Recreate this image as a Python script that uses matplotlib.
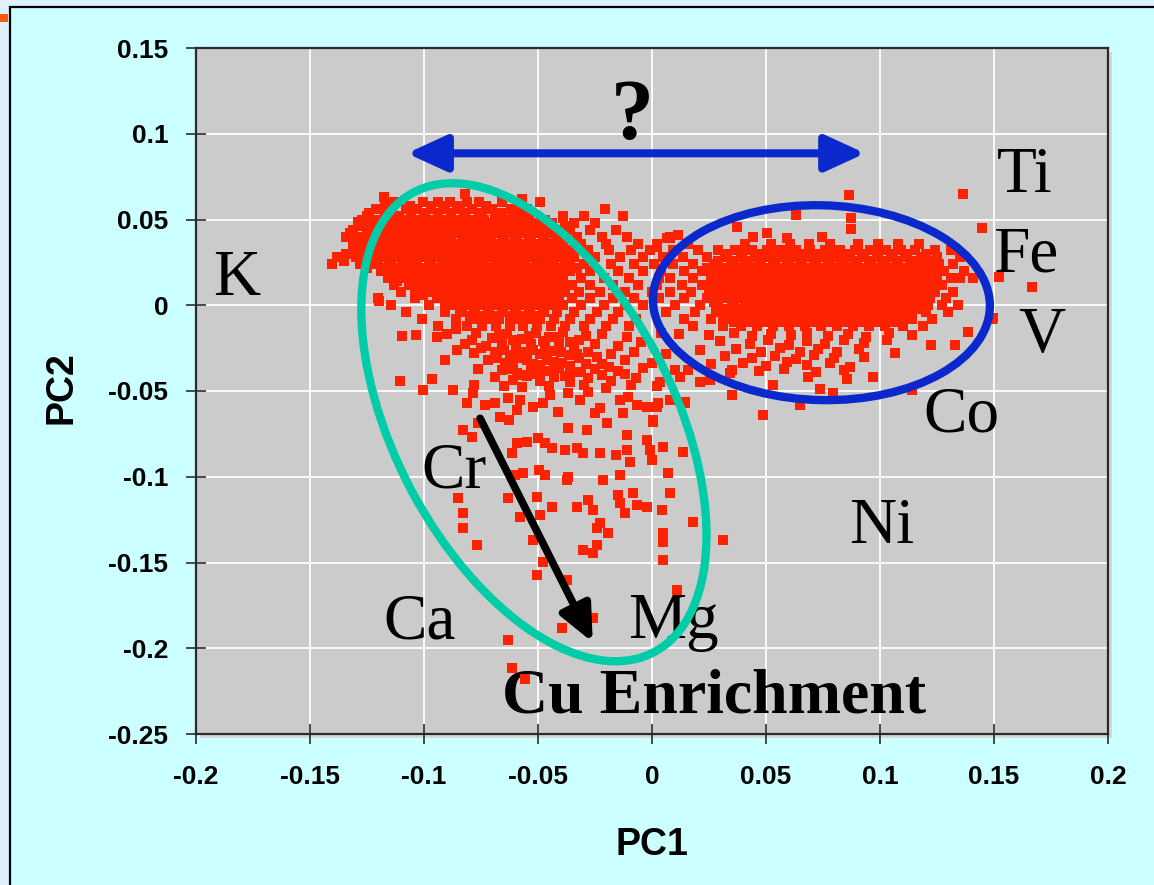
import numpy as np
import matplotlib
matplotlib.use("Agg")
import matplotlib.pyplot as plt
from matplotlib.patches import Rectangle, Ellipse, FancyArrowPatch
from matplotlib.transforms import Affine2D

plt.rcParams['font.family'] = ['Liberation Sans', 'DejaVu Sans']
plt.rcParams['axes.unicode_minus'] = False

# ---------------- axis ticks ----------------
x_ticks = [-0.2, -0.15, -0.1, -0.05, 0.0, 0.05, 0.1, 0.15, 0.2]
x_tick_labels = ['-0.2', '-0.15', '-0.1', '-0.05', '0', '0.05', '0.1', '0.15', '0.2']
y_ticks = [-0.25, -0.2, -0.15, -0.1, -0.05, 0.0, 0.05, 0.1, 0.15]
y_tick_labels = ['-0.25', '-0.2', '-0.15', '-0.1', '-0.05', '0', '0.05', '0.1', '0.15']

# ---------------- element labels (left edge, baseline) ----------------
element_names = ['K', 'Ti', 'Fe', 'V', 'Co', 'Ni', 'Cr', 'Ca', 'Mg']
element_pc1 = [-0.1925, 0.1513, 0.1496, 0.1605, 0.1189, 0.0864, -0.1013, -0.118, -0.0105]
element_pc2 = [0.0058, 0.0659, 0.0198, -0.0274, -0.0735, -0.1388, -0.1061, -0.1942, -0.1942]

# ---------------- sample scores: left group, dense rows ----------------
left_rows_pc2 = [0.060, 0.056, 0.052, 0.048, 0.044, 0.040, 0.036, 0.032, 0.028, 0.024,
                 0.020, 0.016, 0.012, 0.008, 0.004, 0.000, -0.004, -0.008, -0.012]
left_rows_pc1 = [
    [-0.113, -0.1005, -0.094, -0.0885, -0.081, -0.076, -0.066, -0.049],
    [-0.121, -0.108, -0.103, -0.097, -0.091, -0.0855, -0.079, -0.07, -0.062, -0.055, -0.0206],
    [-0.125, -0.117, -0.111, -0.1055, -0.0995, -0.094, -0.088, -0.0825, -0.076, -0.069, -0.061,
     -0.054, -0.039, -0.03, -0.0127],
    [-0.129, -0.1235, -0.118, -0.112, -0.1065, -0.101, -0.095, -0.089, -0.083, -0.0775, -0.071,
     -0.065, -0.0585, -0.051, -0.044, -0.034, -0.025],
    [-0.131, -0.125, -0.119, -0.1135, -0.108, -0.102, -0.0965, -0.0905, -0.085, -0.079, -0.073,
     -0.0675, -0.0615, -0.0555, -0.049, -0.0425, -0.036, -0.027, -0.016],
    [-0.134, -0.128, -0.1225, -0.117, -0.111, -0.105, -0.099, -0.0935, -0.088, -0.082, -0.076,
     -0.0705, -0.065, -0.059, -0.053, -0.047, -0.0405, -0.033, -0.022, -0.011, 0.008],
    [-0.127, -0.1215, -0.1155, -0.11, -0.104, -0.098, -0.0925, -0.0865, -0.081, -0.075, -0.069,
     -0.0635, -0.0575, -0.0515, -0.0455, -0.039, -0.031, -0.02, -0.006, 0.002],
    [-0.131, -0.125, -0.119, -0.113, -0.1075, -0.1015, -0.0955, -0.09, -0.084, -0.078, -0.0725,
     -0.0665, -0.0605, -0.0545, -0.0485, -0.0425, -0.036, -0.028, -0.019, -0.009],
    [-0.138, -0.13, -0.1235, -0.1175, -0.112, -0.106, -0.1, -0.0945, -0.0885, -0.0825, -0.077,
     -0.071, -0.065, -0.059, -0.053, -0.047, -0.041, -0.034, -0.025, -0.014, -0.004],
    [-0.1404, -0.128, -0.1215, -0.1155, -0.1095, -0.104, -0.098, -0.092, -0.0865, -0.0805,
     -0.0745, -0.069, -0.063, -0.057, -0.051, -0.045, -0.038, -0.03, -0.018, -0.008, 0.001],
    [-0.119, -0.113, -0.107, -0.1015, -0.0955, -0.09, -0.084, -0.078, -0.0725, -0.0665, -0.0605,
     -0.0545, -0.049, -0.043, -0.036, -0.027, -0.015, -0.004],
    [-0.116, -0.1095, -0.104, -0.098, -0.092, -0.0865, -0.0805, -0.075, -0.069, -0.063, -0.057,
     -0.051, -0.045, -0.039, -0.031, -0.021, -0.01, 0.003],
    [-0.113, -0.1065, -0.1005, -0.095, -0.089, -0.083, -0.0775, -0.0715, -0.0655, -0.06, -0.054,
     -0.048, -0.042, -0.035, -0.027, -0.017, -0.006],
    [-0.11, -0.0975, -0.092, -0.086, -0.08, -0.074, -0.0685, -0.0625, -0.0565, -0.051, -0.045,
     -0.039, -0.032, -0.023, -0.012, 0.0],
    [-0.12, -0.104, -0.0945, -0.0885, -0.083, -0.077, -0.071, -0.065, -0.059, -0.053, -0.047,
     -0.041, -0.035, -0.027, -0.017, -0.008],
    [-0.1145, -0.098, -0.087, -0.081, -0.075, -0.069, -0.063, -0.057, -0.051, -0.045, -0.039,
     -0.031, -0.021, -0.012, -0.004],
    [-0.108, -0.091, -0.0835, -0.0775, -0.0715, -0.0655, -0.0595, -0.0535, -0.0475, -0.0415,
     -0.034, -0.024, -0.015],
    [-0.101, -0.086, -0.079, -0.073, -0.067, -0.061, -0.055, -0.049, -0.043, -0.036, -0.027,
     -0.017, -0.007],
    [-0.094, -0.081, -0.0745, -0.0685, -0.0625, -0.0565, -0.0505, -0.0445, -0.038, -0.03, -0.02,
     -0.01],
]

# in-between rows of the crowded left core
left_core_pc2 = [0.058, 0.054, 0.050, 0.046, 0.042, 0.038, 0.034, 0.030, 0.026, 0.022,
                 0.018, 0.014, 0.010, 0.006, 0.002, -0.002, -0.006]
left_core_pc1 = [
    [-0.117, -0.106, -0.097, -0.0915, -0.084, -0.073, -0.059],
    [-0.124, -0.114, -0.1055, -0.1, -0.094, -0.088, -0.082, -0.0745, -0.066, -0.058],
    [-0.127, -0.12, -0.1145, -0.109, -0.103, -0.097, -0.091, -0.0855, -0.0795, -0.0735, -0.0655,
     -0.057, -0.047],
    [-0.128, -0.1215, -0.1155, -0.1095, -0.1035, -0.098, -0.092, -0.086, -0.08, -0.074, -0.068,
     -0.062, -0.0535, -0.046, -0.038],
    [-0.1325, -0.1215, -0.1165, -0.1105, -0.105, -0.099, -0.0935, -0.0875, -0.082, -0.0755,
     -0.0695, -0.0635, -0.058, -0.052, -0.045, -0.038],
    [-0.131, -0.125, -0.119, -0.113, -0.107, -0.101, -0.0955, -0.0895, -0.0835, -0.0775, -0.0715,
     -0.066, -0.06, -0.054, -0.048, -0.042],
    [-0.129, -0.1225, -0.1165, -0.1105, -0.105, -0.099, -0.093, -0.087, -0.0815, -0.0755,
     -0.0695, -0.0635, -0.0575, -0.051, -0.045, -0.039, -0.032],
    [-0.134, -0.1275, -0.1215, -0.116, -0.11, -0.104, -0.098, -0.092, -0.0865, -0.0805, -0.0745,
     -0.0685, -0.0625, -0.0565, -0.0505, -0.044, -0.037],
    [-0.135, -0.1265, -0.12, -0.1145, -0.1085, -0.103, -0.097, -0.091, -0.085, -0.079, -0.0735,
     -0.0675, -0.0615, -0.0555, -0.0495, -0.043, -0.036],
    [-0.125, -0.1185, -0.1125, -0.1065, -0.101, -0.095, -0.089, -0.083, -0.0775, -0.0715,
     -0.0655, -0.06, -0.054, -0.048, -0.041, -0.033],
    [-0.1155, -0.11, -0.104, -0.098, -0.0925, -0.0865, -0.0805, -0.0745, -0.069, -0.063, -0.057,
     -0.0515, -0.0455, -0.039],
    [-0.112, -0.1065, -0.1005, -0.0945, -0.089, -0.083, -0.077, -0.071, -0.0655, -0.0595, -0.054,
     -0.048, -0.0415],
    [-0.104, -0.0975, -0.0915, -0.086, -0.08, -0.074, -0.068, -0.0625, -0.0565, -0.0505, -0.0445,
     -0.038],
    [-0.1005, -0.0945, -0.089, -0.083, -0.077, -0.071, -0.0655, -0.0595, -0.0535, -0.048, -0.042],
    [-0.091, -0.085, -0.079, -0.073, -0.067, -0.061, -0.055, -0.049, -0.043],
    [-0.084, -0.078, -0.072, -0.066, -0.06, -0.054, -0.048],
    [-0.08, -0.0745, -0.0685, -0.0625, -0.0565, -0.0505],
]

# samples just below the left core (PC1, PC2)
left_mid_scores = [
    (-0.086, -0.014), (-0.079, -0.02), (-0.067, -0.0175), (-0.061, -0.0205), (-0.054, -0.018),
    (-0.048, -0.021), (-0.042, -0.0185), (-0.036, -0.0215), (-0.029, -0.018), (-0.075, -0.025),
    (-0.065, -0.026), (-0.059, -0.028), (-0.052, -0.026), (-0.046, -0.0295), (-0.04, -0.027),
    (-0.033, -0.0285), (-0.024, -0.03), (-0.068, -0.031), (-0.061, -0.0345), (-0.055, -0.032),
    (-0.049, -0.035), (-0.043, -0.033), (-0.036, -0.0355), (-0.029, -0.034), (-0.019, -0.036),
    (-0.063, -0.037), (-0.057, -0.0405), (-0.051, -0.04), (-0.044, -0.0385), (-0.038, -0.041),
    (-0.031, -0.039), (-0.022, -0.0405), (-0.012, -0.04),
]

# sparser samples of the left group and its downward tail (PC1, PC2)
left_tail_scores = [
    (-0.1175, 0.063), (-0.082, 0.0647), (-0.057, 0.062), (-0.129, 0.0484), (-0.13, 0.0286),
    (-0.1197, 0.0023), (-0.039, 0.051), (0.0079, 0.039), (0.0022, 0.0338),
    (-0.1096, -0.018), (-0.1035, -0.0175), (-0.0943, -0.0185), (-0.0899, -0.017), (-0.077, -0.016),
    (-0.07, -0.019), (-0.0635, -0.0165), (-0.057, -0.0195), (-0.051, -0.016), (-0.045, -0.0185),
    (-0.039, -0.0155), (-0.032, -0.02), (-0.022, -0.017), (-0.011, -0.0185), (0.004, -0.016),
    (-0.082, -0.0225), (-0.073, -0.0235), (-0.066, -0.022), (-0.0595, -0.0245), (-0.053, -0.0225),
    (-0.047, -0.024), (-0.041, -0.0215), (-0.034, -0.0245), (-0.025, -0.0225), (-0.015, -0.024),
    (-0.005, -0.0215), (-0.0855, -0.026), (-0.078, -0.028), (-0.069, -0.0275), (-0.0625, -0.029),
    (-0.056, -0.027), (-0.049, -0.0285), (-0.043, -0.0265), (-0.0365, -0.029), (-0.028, -0.027),
    (-0.018, -0.0285), (-0.008, -0.027), (0.006, -0.0285), (-0.0908, -0.032), (-0.0763, -0.037),
    (-0.072, -0.032), (-0.0645, -0.0335), (-0.058, -0.031), (-0.052, -0.0345), (-0.046, -0.032),
    (-0.0395, -0.0335), (-0.032, -0.031), (-0.022, -0.034), (-0.012, -0.032), (0.0, -0.0335),
    (-0.066, -0.038), (-0.059, -0.0395), (-0.053, -0.037), (-0.047, -0.0385), (-0.041, -0.0365),
    (-0.034, -0.039), (-0.025, -0.037), (-0.015, -0.0385), (-0.004, -0.0365), (0.01, -0.038),
    (-0.0965, -0.0431), (-0.069, -0.042), (-0.061, -0.0435), (-0.055, -0.0415), (-0.049, -0.044),
    (-0.043, -0.042), (-0.036, -0.0445), (-0.028, -0.0425), (-0.018, -0.044), (-0.007, -0.0425),
    (-0.1105, -0.0443), (-0.078, -0.0465), (-0.065, -0.047), (-0.057, -0.0475), (-0.045, -0.047),
    (-0.03, -0.0465), (-0.02, -0.048), (-0.009, -0.0465), (0.002, -0.047),
    (-0.1004, -0.0496), (-0.0873, -0.0496), (-0.0811, -0.0571), (-0.0785, -0.0513),
    (-0.0732, -0.0583), (-0.0689, -0.0571), (-0.0667, -0.0653), (-0.0627, -0.0671),
    (-0.0632, -0.0542), (-0.0579, -0.0554), (-0.0592, -0.0612), (-0.0522, -0.0595),
    (-0.0478, -0.0571), (-0.0447, -0.0525), (-0.0412, -0.0624), (-0.0368, -0.0513),
    (-0.0316, -0.0554), (-0.0281, -0.0507), (-0.025, -0.063), (-0.0197, -0.0688),
    (-0.0228, -0.0601), (-0.014, -0.0554), (-0.0105, -0.0536), (-0.0127, -0.063),
    (-0.0066, -0.0583), (-0.0022, -0.0595), (0.0026, -0.0571), (0.0004, -0.0682),
    (0.0079, -0.0554), (0.0145, -0.0571), (-0.0829, -0.0729), (-0.0763, -0.0688),
    (-0.0789, -0.077), (-0.0614, -0.0863), (-0.0592, -0.0805), (-0.0548, -0.0799),
    (-0.05, -0.0776), (-0.0469, -0.0805), (-0.0439, -0.0834), (-0.0382, -0.0845),
    (-0.0329, -0.0834), (-0.0303, -0.0863), (-0.0285, -0.0729), (-0.0368, -0.0717),
    (-0.0228, -0.0863), (-0.0158, -0.0875), (-0.011, -0.0845), (-0.0096, -0.0915),
    (-0.011, -0.0758), (-0.0022, -0.0787), (-0.0009, -0.0845), (0.0, -0.0904),
    (0.0048, -0.0828), (0.0136, -0.0857), (-0.0601, -0.0991), (-0.0566, -0.098),
    (-0.0496, -0.0962), (-0.0469, -0.0991), (-0.0368, -0.1003), (-0.0373, -0.102),
    (-0.0215, -0.102), (-0.014, -0.0991), (0.007, -0.098), (0.0079, -0.1096),
    (-0.0083, -0.1096), (-0.0149, -0.1108), (-0.014, -0.1155), (-0.0066, -0.1166),
    (-0.0022, -0.1178), (0.0044, -0.1195), (-0.0118, -0.1213), (-0.0281, -0.1137),
    (-0.0259, -0.1195), (-0.0329, -0.1178), (-0.0439, -0.1178), (-0.0504, -0.112),
    (-0.0491, -0.1224), (-0.0579, -0.1236), (-0.0632, -0.1125), (-0.0851, -0.1125),
    (-0.0829, -0.1213), (-0.0829, -0.13), (-0.0768, -0.1399), (-0.0228, -0.1271),
    (-0.0193, -0.1329), (-0.0241, -0.13), (-0.0303, -0.1429), (-0.0259, -0.1446),
    (-0.0241, -0.1399), (0.0048, -0.1329), (0.0048, -0.1382), (0.0048, -0.1487),
    (0.018, -0.1265), (-0.0522, -0.137), (-0.0478, -0.1499), (-0.0504, -0.1574),
    (-0.0373, -0.1603), (0.011, -0.1662), (-0.0259, -0.1825), (-0.0395, -0.1883),
    (-0.0632, -0.1953), (-0.0614, -0.2117), (-0.0557, -0.2181), (0.0311, -0.137),
]

# ---------------- sample scores: right group, dense rows ----------------
right_rows_pc2 = [0.036, 0.032, 0.028, 0.024, 0.020, 0.016, 0.012, 0.008, 0.004, 0.000,
                  -0.004, -0.008, -0.012]
right_rows_pc1 = [
    [0.016, 0.041, 0.052, 0.0605, 0.069, 0.078, 0.0905, 0.099, 0.108, 0.117],
    [-0.001, 0.009, 0.02, 0.029, 0.0365, 0.044, 0.0505, 0.0565, 0.063, 0.0695, 0.076, 0.0825,
     0.089, 0.0955, 0.1025, 0.109, 0.1155, 0.124, 0.131],
    [0.005, 0.0135, 0.024, 0.032, 0.039, 0.045, 0.051, 0.057, 0.063, 0.069, 0.075, 0.081, 0.087,
     0.093, 0.099, 0.105, 0.111, 0.118, 0.125, 0.135],
    [0.009, 0.018, 0.027, 0.0345, 0.041, 0.047, 0.053, 0.059, 0.065, 0.071, 0.077, 0.083, 0.089,
     0.095, 0.101, 0.107, 0.113, 0.119, 0.126, 0.132],
    [0.004, 0.014, 0.022, 0.03, 0.037, 0.043, 0.049, 0.055, 0.061, 0.067, 0.073, 0.079, 0.085,
     0.091, 0.097, 0.103, 0.109, 0.115, 0.121, 0.128, 0.137],
    [0.008, 0.018, 0.026, 0.033, 0.04, 0.046, 0.052, 0.058, 0.064, 0.07, 0.076, 0.082, 0.088,
     0.094, 0.1, 0.106, 0.112, 0.118, 0.125, 0.131, 0.1351, 0.1408],
    [0.002, 0.013, 0.022, 0.029, 0.036, 0.043, 0.049, 0.055, 0.061, 0.067, 0.073, 0.079, 0.085,
     0.091, 0.097, 0.103, 0.109, 0.115, 0.121, 0.127],
    [0.008, 0.017, 0.026, 0.033, 0.04, 0.046, 0.052, 0.058, 0.064, 0.07, 0.076, 0.082, 0.088,
     0.094, 0.1, 0.106, 0.112, 0.118, 0.124, 0.132],
    [0.003, 0.014, 0.024, 0.031, 0.038, 0.044, 0.05, 0.056, 0.062, 0.068, 0.074, 0.08, 0.086,
     0.092, 0.098, 0.104, 0.11, 0.116, 0.122, 0.129],
    [0.01, 0.021, 0.029, 0.036, 0.043, 0.049, 0.055, 0.061, 0.067, 0.073, 0.079, 0.085, 0.091,
     0.097, 0.103, 0.109, 0.115, 0.121, 0.127, 0.134],
    [0.006, 0.019, 0.028, 0.035, 0.042, 0.048, 0.054, 0.06, 0.066, 0.072, 0.078, 0.084, 0.09,
     0.096, 0.102, 0.108, 0.114, 0.12, 0.13],
    [0.014, 0.026, 0.034, 0.041, 0.047, 0.053, 0.059, 0.065, 0.071, 0.077, 0.083, 0.089, 0.095,
     0.101, 0.107, 0.114, 0.123, 0.1491],
    [0.018, 0.031, 0.039, 0.046, 0.053, 0.06, 0.067, 0.074, 0.081, 0.088, 0.095, 0.102, 0.11,
     0.119],
]

# in-between rows of the crowded right core
right_core_pc2 = [0.030, 0.026, 0.022, 0.018, 0.014, 0.010, 0.006, 0.002, -0.002, -0.006, -0.010]
right_core_pc1 = [
    [0.033, 0.0395, 0.047, 0.0535, 0.06, 0.066, 0.0725, 0.079, 0.0855, 0.092, 0.0985, 0.1055,
     0.112, 0.12],
    [0.029, 0.036, 0.042, 0.048, 0.054, 0.06, 0.066, 0.072, 0.078, 0.084, 0.09, 0.096, 0.102,
     0.108, 0.115, 0.122],
    [0.024, 0.031, 0.038, 0.044, 0.05, 0.056, 0.062, 0.068, 0.074, 0.08, 0.086, 0.092, 0.098,
     0.104, 0.11, 0.116, 0.123],
    [0.026, 0.0335, 0.04, 0.046, 0.052, 0.058, 0.064, 0.07, 0.076, 0.082, 0.088, 0.094, 0.1,
     0.106, 0.112, 0.118, 0.125],
    [0.029, 0.037, 0.043, 0.049, 0.055, 0.061, 0.067, 0.073, 0.079, 0.085, 0.091, 0.097, 0.103,
     0.109, 0.115, 0.122],
    [0.025, 0.0325, 0.0395, 0.046, 0.052, 0.058, 0.064, 0.07, 0.076, 0.082, 0.088, 0.094, 0.1,
     0.106, 0.112, 0.118, 0.124],
    [0.03, 0.037, 0.043, 0.049, 0.055, 0.061, 0.067, 0.073, 0.079, 0.085, 0.091, 0.097, 0.103,
     0.109, 0.115, 0.121],
    [0.027, 0.035, 0.041, 0.047, 0.053, 0.059, 0.065, 0.071, 0.077, 0.083, 0.089, 0.095, 0.101,
     0.107, 0.113, 0.119],
    [0.032, 0.039, 0.046, 0.052, 0.058, 0.064, 0.07, 0.076, 0.082, 0.088, 0.094, 0.1, 0.106,
     0.112, 0.118],
    [0.031, 0.038, 0.045, 0.051, 0.057, 0.063, 0.069, 0.075, 0.081, 0.087, 0.093, 0.099, 0.105,
     0.111],
    [0.036, 0.043, 0.05, 0.057, 0.064, 0.071, 0.078, 0.085, 0.092, 0.099, 0.106],
]

# sparser samples around the right group (PC1, PC2)
right_sparse_scores = [
    (0.012, -0.0165), (0.025, -0.0175), (0.036, -0.016), (0.044, -0.018), (0.052, -0.0165),
    (0.061, -0.0175), (0.068, -0.016), (0.077, -0.018), (0.086, -0.0165), (0.094, -0.0185),
    (0.104, -0.016), (0.114, -0.0175), (0.1386, -0.0157), (0.03, -0.021), (0.043, -0.0225),
    (0.051, -0.0205), (0.06, -0.023), (0.068, -0.021), (0.076, -0.0225), (0.084, -0.0205),
    (0.093, -0.022), (0.1031, -0.0204), (0.1224, -0.0233), (0.1329, -0.0233), (0.021, -0.026),
    (0.037, -0.0255), (0.048, -0.027), (0.056, -0.025), (0.065, -0.0275), (0.073, -0.0255),
    (0.081, -0.027), (0.091, -0.0255), (0.1066, -0.028), (0.032, -0.0295), (0.044, -0.031),
    (0.054, -0.0295), (0.063, -0.0315), (0.071, -0.029), (0.08, -0.0305), (0.093, -0.03),
    (0.026, -0.034), (0.04, -0.0335), (0.05, -0.0355), (0.059, -0.033), (0.068, -0.035),
    (0.078, -0.0335), (0.087, -0.036), (0.016, -0.038), (0.035, -0.0375), (0.0342, -0.0397),
    (0.047, -0.0385), (0.058, -0.037), (0.072, -0.039), (0.084, -0.038), (0.0211, -0.0449),
    (0.0254, -0.0437), (0.0123, -0.042), (0.0035, -0.0449), (0.0969, -0.042), (0.0855, -0.0431),
    (0.0684, -0.042), (0.0531, -0.0466), (0.0351, -0.0525), (0.0737, -0.049), (0.0794, -0.0513),
    (0.114, -0.0496), (0.0649, -0.0583), (0.0487, -0.0641), (0.0022, -0.0595), (0.0088, -0.0554),
    (0.0145, -0.0566), (0.0004, -0.0671), (0.0864, 0.0641), (0.1364, 0.0647), (0.0632, 0.0525),
    (0.0873, 0.0507), (0.0873, 0.0443), (0.0373, 0.0455), (0.1447, 0.0449), (0.0504, 0.042),
    (0.0443, 0.0397), (0.0592, 0.039), (0.0746, 0.0397), (0.0066, 0.039), (0.0114, 0.0408),
    (0.1522, 0.0163), (0.1667, 0.0105), (0.1496, -0.0076),
]


def expand_rows(rows_y, rows_x):
    xs, ys = [], []
    for y, row in zip(rows_y, rows_x):
        xs.extend(row)
        ys.extend([y] * len(row))
    return xs, ys


pc1_parts, pc2_parts = [], []
for rows_y, rows_x in [(left_rows_pc2, left_rows_pc1), (left_core_pc2, left_core_pc1),
                       (right_rows_pc2, right_rows_pc1), (right_core_pc2, right_core_pc1)]:
    xs, ys = expand_rows(rows_y, rows_x)
    pc1_parts += xs
    pc2_parts += ys
for pts in (left_mid_scores, left_tail_scores, right_sparse_scores):
    pc1_parts += [p[0] for p in pts]
    pc2_parts += [p[1] for p in pts]
pc1 = np.array(pc1_parts)
pc2 = np.array(pc2_parts)

# ---------------- figure ----------------
W, H = 1154, 885
fig = plt.figure(figsize=(W / 100, H / 100), dpi=100, facecolor='#DDF1FF')

# slide panel with its frame (drawn beneath the axes)
fig.patches.append(Rectangle((10 / W, -0.05), 1.2, 1 - 7 / H + 0.05, transform=fig.transFigure,
                             facecolor='#CCFFFF', edgecolor='black', lw=1.6, zorder=-3))
fig.patches.append(Rectangle((0, 1 - 22 / H), 8 / W, 8 / H, transform=fig.transFigure,
                             facecolor='#FF5A00', edgecolor='none', zorder=-2))

ax_l, ax_r, ax_t, ax_b = 196 / W, 1108 / W, 1 - 48 / H, 1 - 734 / H
# soft shadow behind the plot area
fig.patches.append(Rectangle((ax_l + 4 / W, ax_b - 4 / H), ax_r - ax_l, ax_t - ax_b,
                             transform=fig.transFigure, facecolor='#D6D6D6',
                             edgecolor='none', zorder=-2))

ax = fig.add_axes([ax_l, ax_b, ax_r - ax_l, ax_t - ax_b])
ax.set_facecolor('#CBCBCB')
ax.set_xlim(-0.2, 0.2)
ax.set_ylim(-0.25, 0.15)
for sp in ax.spines.values():
    sp.set_color('#2A2A2A')
    sp.set_linewidth(1.6)

ax.set_xticks(x_ticks)
ax.set_xticklabels(x_tick_labels, fontsize=19, fontweight='bold')
ax.set_yticks(y_ticks)
ax.set_yticklabels(y_tick_labels, fontsize=19, fontweight='bold')
ax.tick_params(axis='both', direction='inout', length=15, width=1.2, color='#2A2A2A')
ax.tick_params(axis='x', pad=15)
ax.tick_params(axis='y', pad=12.5)
ax.grid(True, color='white', lw=1.3)
ax.set_axisbelow(True)

# element labels
for name, x, y in zip(element_names, element_pc1, element_pc2):
    ax.text(x, y, name, fontsize=47, family=['Liberation Serif', 'DejaVu Serif'],
            ha='left', va='baseline', color='black', zorder=2)

ax.text(-0.0658, -0.2373, 'Cu Enrichment', fontsize=46, fontweight='bold',
        family=['Liberation Serif', 'DejaVu Serif'], ha='left', va='baseline', zorder=2)
ax.text(-0.0088, 0.0968, '?', fontsize=62, fontweight='bold',
        family=['Liberation Serif', 'DejaVu Serif'], ha='center', va='baseline', zorder=2)

# sample scores
ax.scatter(pc1, pc2, marker='s', s=56, color='#FF2200', linewidths=0, zorder=3)

# group outlines: unit circle mapped through conjugate semi-axes
def outline(center, u, v, color):
    m = np.array([[u[0], v[0], center[0]],
                  [u[1], v[1], center[1]],
                  [0.0, 0.0, 1.0]])
    e = Ellipse((0, 0), 2, 2, fill=False, edgecolor=color, lw=6,
                transform=Affine2D(m) + ax.transData, zorder=4)
    ax.add_patch(e)

outline((-0.0518, -0.0682), (0.0757, -0.0659), (0.0, -0.1228), '#00CDA8')
outline((0.0743, 0.0015), (0.0739, -0.0018), (0.0, -0.0568), '#0A28CC')

# arrows
ax.add_patch(FancyArrowPatch((-0.1075, 0.0886), (0.0935, 0.0886),
                             arrowstyle='<|-|>,head_length=24,head_width=11',
                             mutation_scale=1, lw=5.8, color='#0A28CC',
                             shrinkA=0, shrinkB=0, zorder=5))
ax.add_patch(FancyArrowPatch((-0.0754, -0.0659), (-0.026, -0.1965),
                             arrowstyle='-|>,head_length=22,head_width=10',
                             mutation_scale=1, lw=5.5, color='black',
                             shrinkA=0, shrinkB=0, zorder=5))

# axis titles
fig.text(652 / W, 1 - 855 / H, 'PC1', fontsize=27, fontweight='bold', ha='center', va='baseline')
fig.text(62 / W, 1 - 388 / H, 'PC2', fontsize=27, fontweight='bold', ha='center', va='center',
         rotation=90)

fig.savefig('out.png', dpi=100, facecolor=fig.get_facecolor())
